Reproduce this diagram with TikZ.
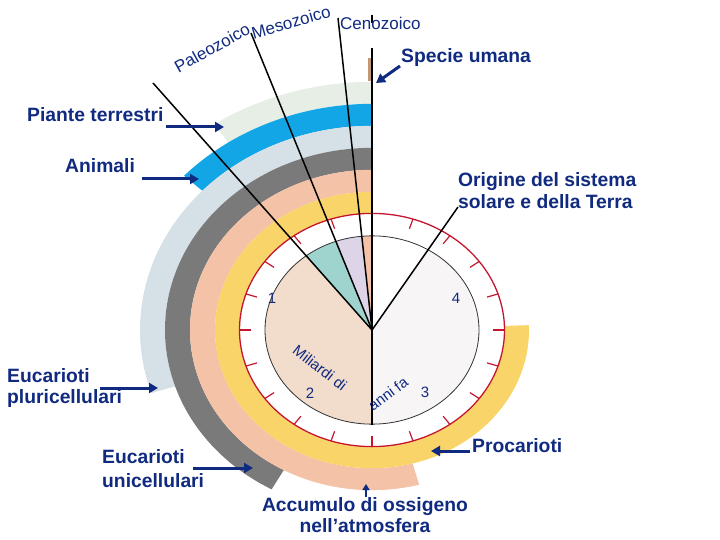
\documentclass[tikz,border=0pt]{standalone}
\usepackage{fontspec}
\setmainfont{Liberation Sans}
\usetikzlibrary{arrows.meta}
\definecolor{lblue}{RGB}{16,42,128}
\definecolor{cgreen}{RGB}{230,238,230}
\definecolor{cblue}{RGB}{18,166,230}
\definecolor{cgrayblue}{RGB}{214,224,231}
\definecolor{cgray}{RGB}{122,122,122}
\definecolor{csalmon}{RGB}{244,194,166}
\definecolor{cyellow}{RGB}{249,212,104}
\definecolor{cred}{RGB}{196,22,48}
\definecolor{cbeige}{RGB}{242,220,204}
\definecolor{cteal}{RGB}{158,212,205}
\definecolor{clav}{RGB}{221,212,232}
\definecolor{cright}{RGB}{247,245,245}
\definecolor{ctan}{RGB}{196,150,120}
\newcommand\myband[5]{\fill[#1] (#4:#2) arc[start angle=#4, end angle=#5, radius=#2] -- (#5:#3) arc[start angle=#5, end angle=#4, radius=#3] -- cycle;}
\newcommand\mywedge[4]{\fill[#1] (0,0) -- (#3:#2) arc[start angle=#3, end angle=#4, radius=#2] -- cycle;}
\begin{document}
\begin{tikzpicture}[x=1pt,y=-1pt,
  lbl/.style={text=lblue, inner sep=0pt, font=\fontsize{19.3}{21}\selectfont\bfseries},
  era/.style={text=lblue, inner sep=0pt, font=\fontsize{17}{19}\selectfont},
  num/.style={text=lblue, inner sep=0pt, font=\fontsize{15}{17}\selectfont},
  arr/.style={draw=lblue, line width=3pt, -{Triangle[length=9pt,width=10pt]}},
  radial/.style={draw=black, line width=1.5pt}]
\useasboundingbox (0,0) rectangle (720,540);
\coordinate (C) at (372,330);
\begin{scope}[shift={(C)}, yscale=-0.88]
  \myband{cgreen}{282}{257}{90}{124}
  \myband{cblue}{257}{232}{90}{137}
  \myband{cgrayblue}{232}{207}{90}{198}
  \myband{cgray}{207}{182}{90}{241}
  \myband{csalmon}{182}{157}{90}{285}
  \myband{cyellow}{157}{132}{90}{362}
  \fill[white] (0,0) circle[radius=132.5];
  \mywedge{cright}{107}{-90}{58.4}
  \mywedge{white}{107}{58.4}{90}
  \mywedge{csalmon}{107}{90}{95.5}
  \mywedge{clav}{107}{95.5}{109.7}
  \mywedge{cteal}{107}{109.7}{128}
  \mywedge{cbeige}{107}{128}{270}
  \draw[black!80, line width=0.8pt] (0,0) circle[radius=107];
  \draw[cred, line width=1.3pt] (0,0) circle[radius=132.5];
  \foreach \a in {0,18,...,342} \draw[cred, line width=1.2pt] (\a:132.5) -- (\a:121);
\end{scope}
% radial lines
\coordinate (L1) at (153,83);
\coordinate (L2) at (251,33);
\coordinate (L3) at (338,18);
\coordinate (LT) at (372,48);
\coordinate (LB) at (372,425);
\coordinate (LO) at (458,207);
\coordinate (T1) at (372,15);
\coordinate (T2) at (372,23);
\fill[ctan] (368,58) rectangle (371,81);
\draw[radial] (C) -- (L1);
\draw[radial] (C) -- (L2);
\draw[radial] (C) -- (L3);
\draw[radial] (LT) -- (LB);
\draw[radial] (C) -- (LO);
\draw[black, line width=1.2pt] (T1) -- (T2);
% era labels
\node[era, rotate=29] (pal) at (212,48) {Paleozoico};
\node[era, rotate=16] (mes) at (291,22) {Mesozoico};
\node[era, anchor=base west] (cen) at (340,30) {Cenozoico};
% numbers
\node[num] (n1) at (272,298) {1};
\node[num] (n4) at (456,298) {4};
\node[num] (n2) at (310,393) {2};
\node[num] (n3) at (425,392) {3};
\node[num, rotate=-38] (mil) at (320,368) {Miliardi di};
\node[num, rotate=37] (anni) at (388,394) {anni fa};
% labels
\node[lbl, anchor=base west] (pt) at (27,122) {Piante terrestri};
\node[lbl, anchor=base west] (an) at (65,173) {Animali};
\node[lbl, anchor=base west] (su) at (401,63) {Specie umana};
\node[lbl, anchor=base west, align=left] (or) at (458,208) {Origine del sistema\\solare e della Terra};
\node[lbl, anchor=base west, align=left] (ep) at (7,403) {Eucarioti\\pluricellulari};
\node[lbl, anchor=base west, align=left, font=\fontsize{19.3}{24}\selectfont\bfseries] (eu) at (102,487) {Eucarioti\\unicellulari};
\node[lbl, anchor=base west] (pr) at (472,452) {Procarioti};
\node[lbl, anchor=base, align=center, font=\fontsize{19.3}{20.5}\selectfont\bfseries] (ac) at (365,532) {Accumulo di ossigeno\\nell’atmosfera};
% arrows
\coordinate (a1s) at (166,127); \coordinate (a1e) at (224,127);
\coordinate (a2s) at (142,179); \coordinate (a2e) at (199,179);
\coordinate (a3s) at (400,66);  \coordinate (a3e) at (376,83);
\coordinate (a4s) at (100,388); \coordinate (a4e) at (158,388);
\coordinate (a5s) at (193,468); \coordinate (a5e) at (253,468);
\coordinate (a6s) at (470,451); \coordinate (a6e) at (431,451);
\coordinate (a7s) at (366,497); \coordinate (a7e) at (366,484);
\draw[arr] (a1s) -- (a1e);
\draw[arr] (a2s) -- (a2e);
\draw[arr] (a3s) -- (a3e);
\draw[arr] (a4s) -- (a4e);
\draw[arr] (a5s) -- (a5e);
\draw[arr] (a6s) -- (a6e);
\draw[draw=lblue, line width=1.8pt, -{Triangle[length=6pt,width=7pt]}] (a7s) -- (a7e);
\end{tikzpicture}
\end{document}
